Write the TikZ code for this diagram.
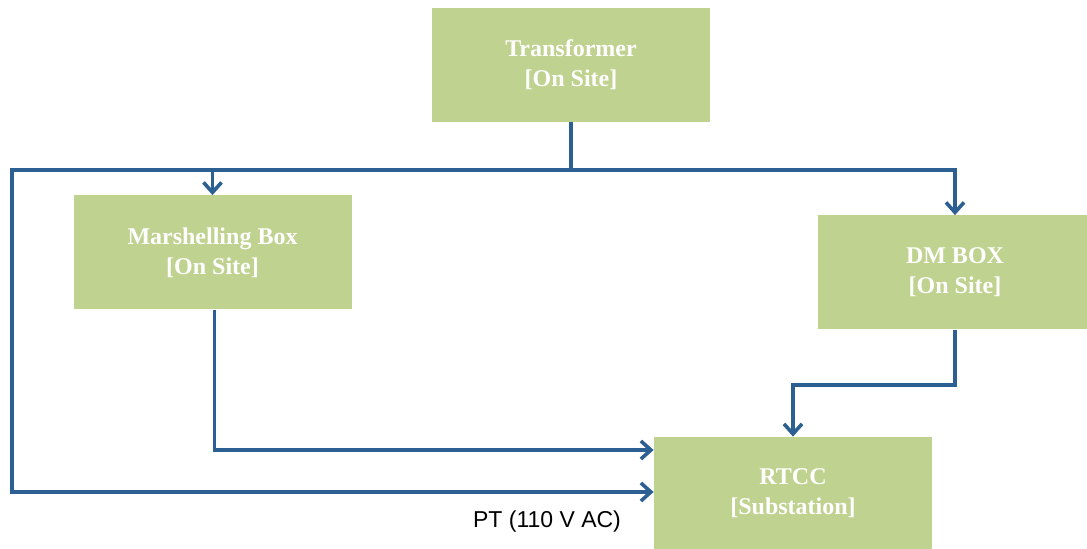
\documentclass[tikz,border=0pt]{standalone}
\usepackage{fontspec}
\setmainfont{Liberation Serif}
\usepackage{xcolor}
\usetikzlibrary{arrows.meta,positioning,calc}
\definecolor{boxgreen}{HTML}{BFD28F}
\definecolor{lineblue}{HTML}{2C5F92}

\begin{document}
\begin{tikzpicture}[x=0.5pt, y=-0.5pt, >={Straight Barb[length=5pt,width=9pt,line width=1.8pt]},
    unit/.style={fill=boxgreen, text=white, font=\fontsize{12}{15}\selectfont\bfseries,
                 align=center, inner sep=0pt, minimum width=139pt, minimum height=57pt},
    wire/.style={draw=lineblue, line width=1.8pt}]
  \useasboundingbox (0,0) rectangle (1087,549);
  % boxes
  \node[unit] (trafo) at (571,65) {Transformer\\{[}On Site{]}};
  \node[unit] (mbox) at (212.5,252.5) {Marshelling Box\\{[}On Site{]}};
  \node[unit, minimum width=137pt] (dm) at (955,272.5) {DM BOX\\{[}On Site{]}};
  \node[unit, minimum height=56pt] (rtcc) at (793,493) {RTCC\\{[}Substation{]}};
  \node[font=\fontsize{11.5}{13}\selectfont\fontspec{Liberation Sans}] (pt) at (547,522) {PT (110 V AC)};
  % wiring
  \coordinate (junc) at (571,170);
  \coordinate (lt) at (12,170);
  \draw[wire] (trafo.south) -- (junc);
  \draw[wire, ->] (junc) -| (mbox.north);
  \draw[wire, ->] (junc) -| (dm.north);
  \draw[wire, ->] (junc) -- (lt) |- ([yshift=0.5pt]rtcc.west);
  \draw[wire, ->] ([xshift=1pt]mbox.south) |- ([yshift=21.5pt]rtcc.west);
  \draw[wire, ->] (dm.south) -- ++(0,55) -| (rtcc.north);
\end{tikzpicture}
\end{document}
